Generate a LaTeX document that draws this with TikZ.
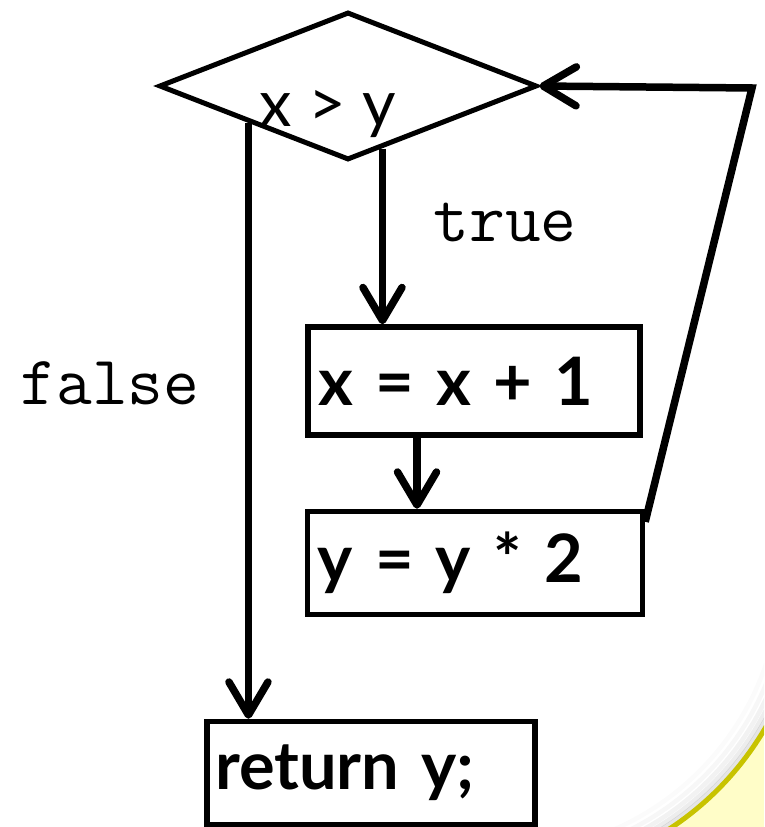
\documentclass[tikz,border=0pt]{standalone}
\usepackage{fontspec}
\setmainfont{Lato}
\usetikzlibrary{shapes.geometric,arrows.meta,calc}
\definecolor{paper}{RGB}{255,253,200}
\definecolor{paperedge}{RGB}{200,195,0}

\begin{document}
\begin{tikzpicture}[x=0.02cm,y=-0.02cm,
  flow/.style={line width=0.15cm,-{Straight Barb[length=0.66cm,width=0.78cm,line width=0.15cm,round]}},
  test/.style={diamond,draw,line width=0.1cm,aspect=2.55,minimum width=7.56cm,
    minimum height=2.96cm,inner sep=0pt,font=\fontsize{37}{39}\selectfont},
  stmt/.style={draw,line width=0.11cm,text width=6.24cm,inner xsep=0.2cm,
    minimum height=2.16cm,align=left,font=\fontsize{38}{40}\selectfont\bfseries},
  lbl/.style={font=\ttfamily\fontsize{39.5}{41}\selectfont}]
  \useasboundingbox (0,0) rectangle (764,827);
  % page corner behind the chart
  \begin{scope}
    \clip (0,0) rectangle (764,827);
    \fill[paper] (0,0) rectangle (764,827);
    \fill[white] (0,0) rectangle (764,574);
    \fill[white] (0,0) rectangle (502,827);
    \fill[white] (502,574) circle[radius=305];
    \foreach \r/\o in {301/0.10,297/0.07,292/0.05,286/0.03,279/0.015}
      \draw[black,opacity=\o,line width=0.09cm] (502,574) ++(15:\r) arc[start angle=15,end angle=75,radius=\r];
    \draw[paperedge,line width=0.1cm] (502,574) ++(15:305) arc[start angle=15,end angle=75,radius=305];
  \end{scope}
  % chart
  \node[test] (cond) at (348,86) {\raisebox{-0.82cm}[0pt][0pt]{x > y}\kern0.8cm};
  \node[stmt] (xinc) at (474,381) {x = x + 1};
  \node[stmt,text width=6.3cm,minimum height=2.06cm] (ydbl) at (475,563) {y = y * 2};
  \node[stmt,minimum height=2.06cm,inner xsep=0.16cm] (ret) at (371,773) {return y;};
  \node[lbl] (truelbl) at (505,222) {true};
  \node[lbl] (falselbl) at (110,383) {false};
  \coordinate (fstart) at ($(cond.west)!0.48!(cond.south)$);
  \coordinate (tstart) at ($(cond.south)!0.18!(cond.east)$);
  \coordinate (mid) at ([xshift=-1.14cm]xinc.south);
  \coordinate (loop) at (752,88);
  \draw[flow] (tstart) -- (tstart |- xinc.north);
  \draw[flow] (mid) -- (mid |- ydbl.north);
  \draw[flow] (fstart) -- (fstart |- ret.north);
  \draw[flow] ([yshift=-0.26cm]ydbl.north east) -- (loop) -- (cond.east);
\end{tikzpicture}
\end{document}
